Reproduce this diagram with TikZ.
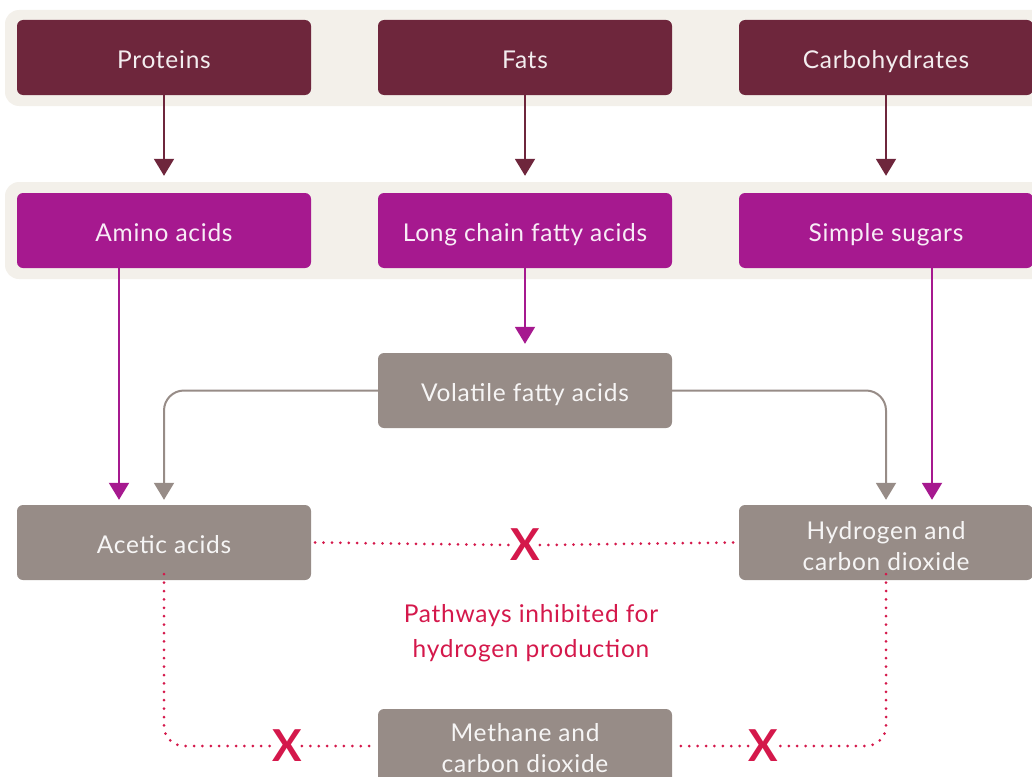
\documentclass[tikz,border=0pt]{standalone}
\usepackage{fontspec}
\setmainfont{Lato}[LetterSpace=3]
\usetikzlibrary{arrows.meta}
\definecolor{bandc}{HTML}{F3F0EA}
\definecolor{topc}{HTML}{6E263C}
\definecolor{midc}{HTML}{A6198F}
\definecolor{grayc}{HTML}{978C87}
\definecolor{redc}{HTML}{D4184B}
\tikzset{
  box/.style={rounded corners=6pt, minimum width=294pt, minimum height=75pt, inner sep=0pt,
    text=white, text opacity=0.92, font=\fontsize{24.5}{31}\selectfont, align=center,
    text height=24pt, text depth=1.4pt},
  twoline/.style={text height=56pt, text depth=1pt},
  topbox/.style={box, fill=topc},
  midbox/.style={box, fill=midc},
  graybox/.style={box, fill=grayc},
  band/.style={fill=bandc, rounded corners=14pt},
  arr/.style={line width=2pt, -{Triangle[width=20pt,length=17pt]}},
  redline/.style={redc, line width=3pt, line cap=round, dash pattern=on 0pt off 8.4pt, rounded corners=20pt},
  xmark/.style={text=redc, font=\fontsize{44}{44}\selectfont\bfseries, inner sep=0pt},
  redtext/.style={text=redc, font=\fontsize{24.5}{35}\selectfont, align=center}
}
\begin{document}
\begin{tikzpicture}[x=1pt,y=-1pt]
\useasboundingbox (0,0) rectangle (1032,776);
\fill[band] (5,10) rectangle (1060,106);
\fill[band] (5,182) rectangle (1060,279);
\node[topbox] (prot) at (164,57.5) {Proteins};
\node[topbox] (fats) at (525,57.5) {Fats};
\node[topbox] (carb) at (886,57.5) {Carbohydrates};
\node[midbox] (amino) at (164,230.5) {Amino acids};
\node[midbox] (lcfa) at (525,230.5) {Long chain fatty acids};
\node[midbox] (sugar) at (886,230.5) {Simple sugars};
\node[graybox] (vfa) at (525,390.5) {Volatile fatty acids};
\node[graybox] (acetic) at (164,542.5) {Acetic acids};
\node[graybox, twoline] (hyd) at (886,542.5) {Hydrogen and\\carbon dioxide};
\node[graybox, twoline, text height=52pt] (meth) at (525,746.5) {Methane and\\carbon dioxide};
\draw[arr, topc, shorten >=17pt] (prot.south) -- (amino.north);
\draw[arr, topc, shorten >=17pt] (fats.south) -- (lcfa.north);
\draw[arr, topc, shorten >=17pt] (carb.south) -- (sugar.north);
\draw[arr, midc, shorten >=9pt] (lcfa.south) -- (vfa.north);
\draw[arr, midc, shorten >=5pt] ([xshift=-45pt]amino.south) -- ([xshift=-45pt]acetic.north);
\draw[arr, midc, shorten >=5pt] ([xshift=46pt]sugar.south) -- ([xshift=46pt]hyd.north);
\draw[arr, grayc, rounded corners=20pt, shorten >=5pt] (vfa.west) -| (acetic.north);
\draw[arr, grayc, rounded corners=20pt, shorten >=5pt] (vfa.east) -| (hyd.north);
\node[xmark] (x1) at (525,545) {X};
\node[xmark] (x2) at (287,746) {X};
\node[xmark] (x3) at (763,746) {X};
\draw[redline] ([xshift=4pt]acetic.east) -- (x1.west);
\draw[redline] (x1.east) -- ([xshift=-4pt]hyd.west);
\coordinate (bl) at (acetic.south |- x2);
\coordinate (br) at (hyd.south |- x3);
\draw[redline] ([yshift=6pt]acetic.south) -- (bl) -- (x2.west);
\draw[redline] (x2.east) -- ([xshift=-4pt]meth.west |- x2);
\draw[redline] ([yshift=6pt]hyd.south) -- (br) -- (x3.east);
\draw[redline] (x3.west) -- ([xshift=4pt]meth.east |- x3);
\node[redtext] (note) at (531,633) {Pathways inhibited for\\hydrogen production};
\end{tikzpicture}
\end{document}
